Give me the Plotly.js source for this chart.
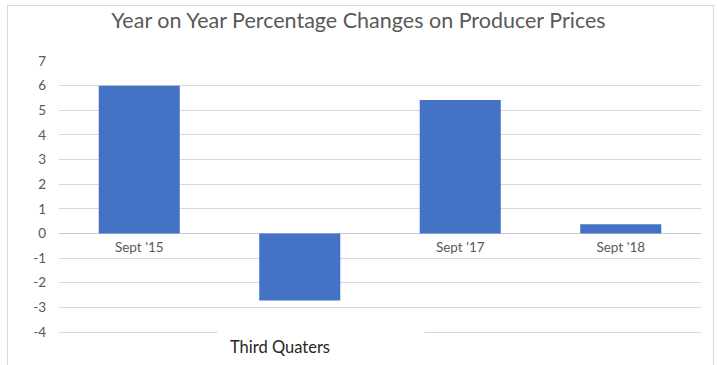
<!DOCTYPE html>
<html>
<head>
<meta charset="utf-8">
<script src="https://cdn.plot.ly/plotly-3.0.1.min.js"></script>
<style>
html,body{margin:0;padding:0;background:#fff;}
#wrap{position:relative;width:717px;height:365px;overflow:hidden;}
#chart{width:717px;height:365px;}
#frame{position:absolute;left:7px;top:5px;width:705px;height:400px;border:1px solid #d9d9d9;pointer-events:none;}
</style>
</head>
<body>
<div id="wrap"><div id="chart"></div><div id="frame"></div></div>
<script>
const categories = ["Sept '15", "Sept '16", "Sept '17", "Sept '18"];
const tickLabels = ["Sept '15", "", "Sept '17", "Sept '18"];
const values = [6.0, -2.72, 5.42, 0.37];
const yTicks = [-4, -3, -2, -1, 0, 1, 2, 3, 4, 5, 6, 7];
const yTickLabels = ["-4", "-3", "-2", "-1", "0", "1", "2", "3", "4", "5", "6", "7"];

const font = "Lato, 'Open Sans', sans-serif";
const yMin = -4.08, yMax = 7.0;

Plotly.newPlot('chart', [{
  type: 'bar',
  x: categories,
  y: values,
  marker: {color: '#4472c4', line: {width: 0}},
  hoverinfo: 'none'
}], {
  width: 717, height: 365,
  margin: {l: 59, r: 16, t: 61, b: 31, pad: 0},
  paper_bgcolor: '#fff', plot_bgcolor: '#fff',
  bargap: 0.495,
  showlegend: false,
  title: {text: 'Year on Year Percentage Changes on Producer Prices',
          font: {family: font, size: 21.5, color: '#595959'},
          x: 0.5, xanchor: 'center', y: 0.945, yanchor: 'middle'},
  xaxis: {
    type: 'category',
    tickvals: categories, ticktext: tickLabels,
    anchor: 'free', position: -yMin / (yMax - yMin),
    showgrid: false, zeroline: false, showline: false, ticks: '',
    ticklabelstandoff: 4,
    tickfont: {family: font, size: 13.5, color: '#595959'}
  },
  yaxis: {
    range: [yMin, yMax], tickvals: yTicks, ticktext: yTickLabels,
    showgrid: true, gridcolor: '#d9d9d9', gridwidth: 1,
    zeroline: true, zerolinecolor: '#c3cbdc', zerolinewidth: 1.5,
    showline: false, ticks: '', ticklabelstandoff: 12,
    tickfont: {family: font, size: 13.5, color: '#595959'}
  },
  annotations: [{
    text: 'Third Quaters', xref: 'paper', yref: 'paper',
    x: 0.408, xanchor: 'center', y: -0.0458, yanchor: 'middle',
    width: 182, height: 18, align: 'left', valign: 'middle',
    borderpad: 12, bgcolor: '#fff', showarrow: false,
    font: {family: font, size: 16.5, color: '#262626'}
  }]
}, {staticPlot: true});
</script>
</body>
</html>
